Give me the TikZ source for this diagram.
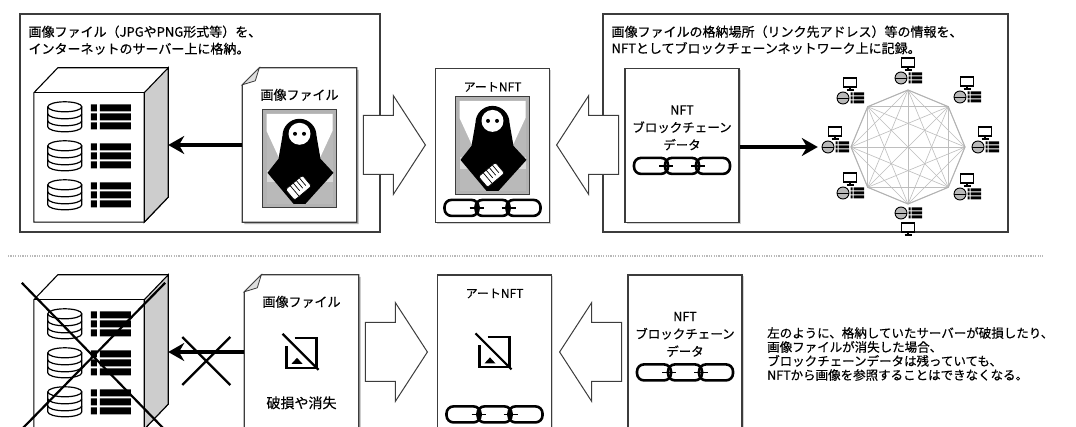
\documentclass[tikz,border=0pt]{standalone}
\usepackage{fontspec}
\setmainfont{Noto Sans CJK JP}[FakeBold=0.5]
\usetikzlibrary{arrows.meta, calc, shapes.arrows, shadows}

\definecolor{linegray}{RGB}{60, 60, 60}
\definecolor{sidegray}{RGB}{205, 205, 205}
\definecolor{meshgray}{RGB}{190, 190, 190}

\tikzset{
  % three chain links
  linkchain/.pic={
    \foreach \k in {-31,0,31}
      \draw[line width=2.6pt, rounded corners=7pt] (\k-17,-8) rectangle (\k+17,8);
    \draw[line width=1.6pt] (-23,0) -- (-9,0) (9,0) -- (23,0);
  },
  % disk stack and rack bars, one row of the server
  dbrow/.pic={
    \draw[line width=1.2pt, fill=white] (-17,-10) -- (-17,10)
      arc[start angle=180, end angle=360, x radius=17pt, y radius=5pt] -- (17,-10);
    \draw[line width=1.2pt, fill=white] (0,-10) ellipse[x radius=17pt, y radius=5pt];
    \draw[line width=1.2pt] (-17,-3) arc[start angle=180, end angle=360, x radius=17pt, y radius=5pt];
    \draw[line width=1.2pt] (-17,4) arc[start angle=180, end angle=360, x radius=17pt, y radius=5pt];
    \foreach \r in {-9,0,9}
      \fill (26,\r-3.5) rectangle (32,\r+3.5) (35,\r-3.5) rectangle (66,\r+3.5);
  },
  % small peer of the network
  netnode/.pic={
    \draw[line width=0.9pt, fill=gray!55] (-7,0) circle[radius=6pt];
    \draw[line width=0.7pt] (-13,0) -- (-1,0);
    \foreach \r in {-4,0,4}
      \fill (0.5,\r-1.5) rectangle (2.5,\r+1.5) (3.5,\r-1.5) rectangle (14,\r+1.5);
  },
  monitor/.pic={
    \draw[line width=1.1pt, fill=white] (-6.5,-5) rectangle (6.5,4);
    \draw[line width=1.5pt] (0,4) -- (0,7) (-3.5,7) -- (3.5,7);
  },
  % framed picture of a person
  portrait/.pic={
    \draw[linegray, line width=1pt, fill=gray!60] (-37,-49) rectangle (37,49);
    \fill[gray!55] (-33,-45) rectangle (33,45);
    \fill[white] (-33,-45) -- (33,-45) -- (33,-28) -- (15,11) -- (-15,11) -- (-33,-28) -- cycle;
    \fill[gray!30] (-33,11) rectangle (33,23);
    \fill (0,-23) circle[radius=17pt];
    \fill (-17,-23) -- (17,-23) -- (21,0) -- (34,14) -- (6,45) -- (-6,45) -- (-32,14) -- (-21,0) -- cycle;
    \fill[white] (0,-25) circle[radius=11pt];
    \fill (-4.5,-25) circle[radius=2pt] (4.5,-25) circle[radius=2pt];
    \begin{scope}[shift={(-1,29)}, rotate=40]
      \draw[line width=0.6pt, fill=white, rounded corners=2pt] (-11,-7) rectangle (11,7);
      \draw[line width=0.7pt] (-5,-7) -- (-5,7) (-1,-7) -- (-1,3) (3,-7) -- (3,3) (7,-7) -- (7,3);
    \end{scope}
  },
  % missing image
  noimage/.pic={
    \draw[line width=2.2pt] (-7,-15) -- (15,-15) -- (15,15) -- (-15,15) -- (-15,-7);
    \fill (-10,11) -- (-4.5,5) -- (1,11) -- cycle;
    \draw[line width=2.2pt] (-19,-19) -- (17,17);
  }
}

% server cabinet inside a node
\newcommand{\drawserver}[1]{%
  \draw[line width=1.1pt, fill=white] (#1.south west) -- ($(#1.north west)+(0,25)$)
    -- ($(#1.north west)+(24,0)$) -- (#1.north east) -- ($(#1.south east)+(0,-25)$)
    -- ($(#1.south east)+(-24,0)$) -- cycle;
  \draw[line width=1.1pt, fill=sidegray] ($(#1.north east)+(-24,25)$) -- (#1.north east)
    -- ($(#1.south east)+(0,-25)$) -- ($(#1.south east)+(-24,0)$) -- cycle;
  \draw[line width=1.1pt] ($(#1.north west)+(0,25)$) -- ($(#1.north east)+(-24,25)$);
  \foreach \r in {0,1,2}
    \pic at ($(#1.north west)+(31,49+39*\r)$) {dbrow};
}

% sheet of paper with a folded corner
\newcommand{\drawdoc}[1]{%
  \fill[black!30] ($(#1.north west)+(2,19)$) -- ($(#1.north west)+(19,2)$) -- ($(#1.north east)+(2,2)$)
    -- ($(#1.south east)+(2,2)$) -- ($(#1.south west)+(2,2)$) -- cycle;
  \draw[draw=linegray, line width=1.2pt, fill=white] ($(#1.north west)+(0,17)$) -- ($(#1.north west)+(17,0)$)
    -- (#1.north east) -- (#1.south east) -- (#1.south west) -- cycle;
  \draw[draw=linegray, line width=0.8pt, fill=gray!25] ($(#1.north west)+(0,17)$) -- ($(#1.north west)+(17,0)$)
    -- ($(#1.north west)+(13,13)$) -- cycle;
}

\begin{document}
\begin{tikzpicture}[x=1pt, y=-1pt,
    panel/.style={draw=linegray, line width=1.3pt, fill=white, inner sep=0pt,
                  drop shadow={shadow xshift=1.2pt, shadow yshift=-1.2pt, fill=black!35, opacity=0.5}},
    sheet/.style={draw=linegray, line width=1.2pt, fill=white, inner sep=0pt,
                  minimum width=114pt, minimum height=154pt,
                  drop shadow={shadow xshift=1.5pt, shadow yshift=-1.5pt, fill=black!35, opacity=0.5}},
    docbox/.style={inner sep=0pt, minimum width=114pt, minimum height=154pt},
    srvbox/.style={inner sep=0pt, minimum width=134pt, minimum height=154pt},
    netbox/.style={inner sep=0pt, minimum width=34pt, minimum height=12pt},
    txt/.style={inner sep=0pt, align=center, font=\fontsize{13}{15}\selectfont},
    push/.style={-{Stealth[length=16pt, width=18pt]}, line width=3.6pt},
    bigarrow/.style={single arrow, draw=linegray, fill=white, line width=1pt,
                     inner xsep=0pt, inner ysep=29pt, minimum height=62pt,
                     single arrow head extend=20pt, single arrow tip angle=114, anchor=tip},
    cross/.style={line width=2.2pt},
    mesh/.style={draw=meshgray, line width=0.6pt},
    sep/.style={draw=gray!55, line width=1.6pt, dash pattern=on 1.2pt off 1.2pt}
  ]
  \useasboundingbox (0,0) rectangle (1076,427);

  % upper half: file on a server, NFT on the chain
  \node[panel, minimum width=360pt, minimum height=218pt] (frameA) at (200,123) {};
  \node[panel, minimum width=405pt, minimum height=218pt] (frameB) at (805.5,123) {};
  \node[txt, align=left, anchor=north west, font=\fontsize{13}{17}\selectfont] (capA)
    at ($(frameA.north west)+(9,12)$) {画像ファイル（JPGやPNG形式等）を、\\インターネットのサーバー上に格納。};
  \node[txt, align=left, anchor=north west, font=\fontsize{13}{16.5}\selectfont] (capB)
    at ($(frameB.north west)+(9,12)$) {画像ファイルの格納場所（リンク先アドレス）等の情報を、\\NFTとしてブロックチェーンネットワーク上に記録。};

  \node[srvbox] (srvA) at (101,145) {};
  \drawserver{srvA}
  \node[docbox] (docA) at (299.5,145) {};
  \drawdoc{docA}
  \node[txt] (docAtitle) at ($(docA.north)+(0,27)$) {画像ファイル};
  \pic at ($(docA.north)+(0,91)$) {portrait};
  \node[sheet] (cardA) at (492.5,145.5) {};
  \node[txt, font=\fontsize{12}{14}\selectfont] (cardAtitle) at ($(cardA.north)+(0,19)$) {アートNFT};
  \pic at ($(cardA.north)+(0,78)$) {portrait};
  \pic at ($(cardA.north)+(0,140)$) {linkchain};
  \node[sheet] (nftA) at (682,145.5) {};
  \node[txt, font=\fontsize{12.5}{17.5}\selectfont] (nftAtext) at ($(nftA.north)+(0,60)$) {NFT\\ブロックチェーン\\データ};
  \pic at ($(nftA.north)+(0,98)$) {linkchain};

  \node[bigarrow] (arrA) at (426,145) {};
  \node[bigarrow, shape border rotate=180] (arrB) at (556,145) {};

  % peer network
  \coordinate (net) at (908,147);
  \foreach \i in {0,...,7}
    \coordinate (v\i) at ($(net)+({57*cos(45*\i)},{57*sin(45*\i)})$);
  \foreach \i in {0,...,6} {
    \pgfmathtruncatemacro\nxt{\i+1}
    \foreach \j in {\nxt,...,7}
      \draw[mesh] (v\i) -- (v\j);
  }
  \draw[mesh, draw=gray!60, line width=1pt] (v0) \foreach \i in {1,...,7} {-- (v\i)} -- cycle;
  \foreach \n/\x/\y/\m in {n1/908/78/-15, n2/967/97/-15, n3/985/147/-15, n4/967/194/-15,
                           n5/908/213/15, n6/850/193/-15, n7/835/147/-15, n8/850/98/-15} {
    \node[netbox] (\n) at (\x,\y) {};
    \pic at (\n) {netnode};
    \pic at ($(\n)+(0,\m)$) {monitor};
  }

  \draw[push] (docA.west) -- (docA.west -| srvA.east);
  \draw[push] (nftA.east |- n7.west) -- (n7.west);

  \draw[sep] (8,256) -- (1043,256);

  % lower half: the stored file is gone
  \node[srvbox] (srvB) at (101,352) {};
  \drawserver{srvB}
  \node[docbox] (docB) at (301.5,352) {};
  \drawdoc{docB}
  \node[txt] (docBtitle) at ($(docB.north)+(0,27)$) {画像ファイル};
  \pic at ($(docB.north)+(0,78)$) {noimage};
  \node[txt, font=\fontsize{14}{16}\selectfont] (docBlost) at ($(docB.north)+(0,128)$) {破損や消失};
  \node[sheet] (cardB) at (494.5,352) {};
  \node[txt, font=\fontsize{12}{14}\selectfont] (cardBtitle) at ($(cardB.north)+(0,19)$) {アートNFT};
  \pic at ($(cardB.north)+(0,78)$) {noimage};
  \pic at ($(cardB.north)+(0,140)$) {linkchain};
  \node[sheet] (nftB) at (685,352) {};
  \node[txt, font=\fontsize{12.5}{17.5}\selectfont] (nftBtext) at ($(nftB.north)+(0,60)$) {NFT\\ブロックチェーン\\データ};
  \pic at ($(nftB.north)+(0,98)$) {linkchain};

  \node[bigarrow] (arrC) at (428,352) {};
  \node[bigarrow, shape border rotate=180] (arrD) at (559,352) {};

  \draw[push] (docB.west) -- (docB.west -| srvB.east);
  \coordinate (brk) at ($(docB.west)!0.5!(docB.west -| srvB.east)+(0,9)$);
  \draw[cross] ($(brk)+(-24,-24)$) -- ($(brk)+(24,24)$) ($(brk)+(24,-24)$) -- ($(brk)+(-24,24)$);
  \draw[cross] ($(srvB.north west)+(-12,8)$) -- ($(srvB.south east)+(-4,0)$)
               ($(srvB.north east)+(-3,8)$) -- ($(srvB.south west)+(-12,0)$);

  \node[txt, align=left, anchor=west, font=\fontsize{12.5}{14}\selectfont] (note) at (767,354)
    {左のように、格納していたサーバーが破損したり、\\画像ファイルが消失した場合、\\ブロックチェーンデータは残っていても、\\NFTから画像を参照することはできなくなる。};
\end{tikzpicture}
\end{document}
